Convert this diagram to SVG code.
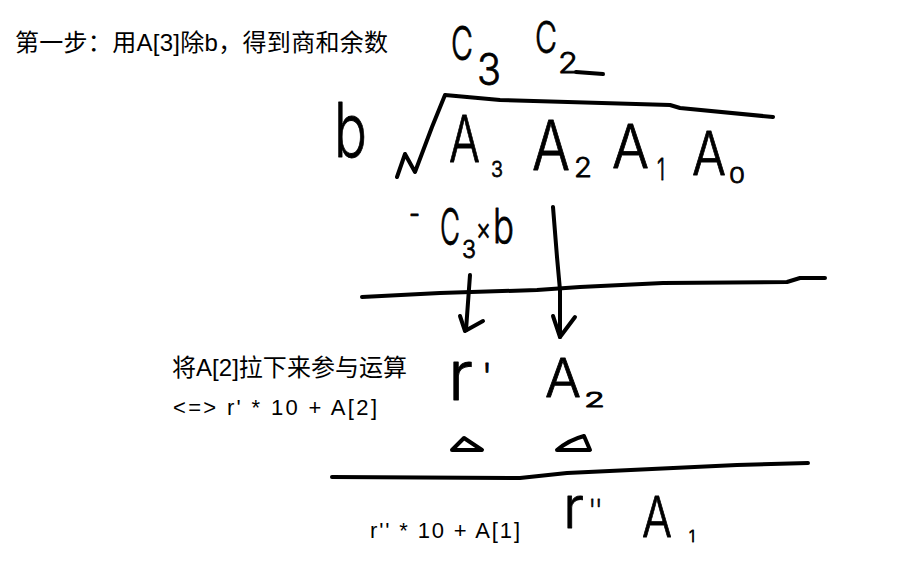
<svg xmlns="http://www.w3.org/2000/svg" width="898" height="586" viewBox="0 0 898 586">
<style>
.pt{font-family:"Liberation Sans","Noto Sans CJK SC",sans-serif;fill:#000}
.hw{font-family:Inter,"DejaVu Sans",sans-serif;font-weight:300;fill:#000;stroke:#000;stroke-width:0.8;stroke-linejoin:round}
.st{fill:none;stroke:#000;stroke-width:4;stroke-linecap:round;stroke-linejoin:round}
</style>
<rect width="898" height="586" fill="#fff"/>
<g id="title"><text class="pt" x="15" y="51" font-size="24" textLength="373" lengthAdjust="spacing">第一步：用A[3]除b，得到商和余数</text></g>
<g id="note1"><text class="pt" x="172" y="376" font-size="24" textLength="235" lengthAdjust="spacing">将A[2]拉下来参与运算</text></g>
<g id="note2"><text class="pt" x="173" y="415" font-size="22" textLength="204" lengthAdjust="spacing">&lt;=&gt; r' * 10 + A[2]</text></g>
<g id="note3"><text class="pt" x="370" y="538" font-size="22" textLength="150" lengthAdjust="spacing">r'' * 10 + A[1]</text></g>
<g id="quotient">
<text class="hw"><tspan x="451" y="60" font-size="46" textLength="22" lengthAdjust="spacingAndGlyphs">C</tspan><tspan x="477" y="85" font-size="44" textLength="24" lengthAdjust="spacingAndGlyphs">3</tspan></text>
<text class="hw"><tspan x="535" y="53" font-size="44" textLength="22" lengthAdjust="spacingAndGlyphs">C</tspan><tspan x="558" y="73" font-size="29" textLength="20" lengthAdjust="spacingAndGlyphs">2</tspan></text>
<path class="st" d="M576,72 L603,74"/>
</g>
<g id="divisor"><text class="hw" x="334" y="157" font-size="75" textLength="33" lengthAdjust="spacingAndGlyphs">b</text></g>
<g id="dividend">
<text class="hw"><tspan x="449" y="162" font-size="65" textLength="31" lengthAdjust="spacingAndGlyphs">A</tspan><tspan x="491" y="177" font-size="22" textLength="12" lengthAdjust="spacingAndGlyphs">3</tspan></text>
<text class="hw"><tspan x="532" y="170" font-size="68" textLength="38" lengthAdjust="spacingAndGlyphs">A</tspan><tspan x="574" y="177" font-size="27" textLength="18" lengthAdjust="spacingAndGlyphs">2</tspan></text>
<text class="hw"><tspan x="612" y="168" font-size="60" textLength="37" lengthAdjust="spacingAndGlyphs">A</tspan><tspan x="657" y="180" font-size="30" textLength="8" lengthAdjust="spacingAndGlyphs">1</tspan></text>
<text class="hw"><tspan x="692" y="175" font-size="60" textLength="34" lengthAdjust="spacingAndGlyphs">A</tspan><tspan x="729" y="183" font-size="22" textLength="16" lengthAdjust="spacingAndGlyphs">0</tspan></text>
</g>
<g id="product">
<text class="hw"><tspan x="409" y="224" font-size="30" textLength="11" lengthAdjust="spacingAndGlyphs">-</tspan><tspan x="440" y="245" font-size="50" textLength="20" lengthAdjust="spacingAndGlyphs">C</tspan><tspan x="462" y="258" font-size="24" textLength="14" lengthAdjust="spacingAndGlyphs">3</tspan><tspan x="476" y="240" font-size="32" textLength="15" lengthAdjust="spacingAndGlyphs">×</tspan><tspan x="493" y="243" font-size="48" textLength="21" lengthAdjust="spacingAndGlyphs">b</tspan></text>
</g>
<g id="remainder1">
<text class="hw"><tspan x="448" y="400" font-size="70" textLength="25" lengthAdjust="spacingAndGlyphs">r</tspan><tspan x="482" y="389" font-size="36" textLength="10" lengthAdjust="spacingAndGlyphs">'</tspan></text>
</g>
<g id="digit2">
<text class="hw"><tspan x="545" y="397" font-size="54" textLength="36" lengthAdjust="spacingAndGlyphs">A</tspan><tspan x="584" y="407" font-size="20" textLength="21" lengthAdjust="spacingAndGlyphs">2</tspan></text>
</g>
<g id="marks">
<path class="st" d="M452,450 L464,438 L482,450 Z"/>
<path class="st" d="M557,450 Q569,440 584,436 L590,450 Z"/>
</g>
<g id="remainder2">
<text class="hw"><tspan x="563" y="528" font-size="58" textLength="21" lengthAdjust="spacingAndGlyphs">r</tspan><tspan x="589" y="521" font-size="30" textLength="13" lengthAdjust="spacingAndGlyphs">''</tspan></text>
</g>
<g id="digit1">
<text class="hw"><tspan x="642" y="537" font-size="56" textLength="30" lengthAdjust="spacingAndGlyphs">A</tspan><tspan x="689" y="542" font-size="16" textLength="6" lengthAdjust="spacingAndGlyphs">1</tspan></text>
</g>
<g id="connectors">
<path class="st" d="M397,177 L405,154 L415,172 L432,127 L445,95 L500,100 L670,105 L680,108 L773,117"/>
<path class="st" d="M362,297 L440,293 L537,290 L580,287 L663,283 L787,282 L800,278 L825,278"/>
<path class="st" d="M332,477 L520,478 L567,473 L737,465 L808,463"/>
<path class="st" d="M470,275 L466,330"/>
<path class="st" d="M460,316 L465,331 L483,321"/>
<path class="st" d="M553,207 L557,257 L560,290 L560,337"/>
<path class="st" d="M553,316 L560,337 L575,317"/>
</g>
</svg>
